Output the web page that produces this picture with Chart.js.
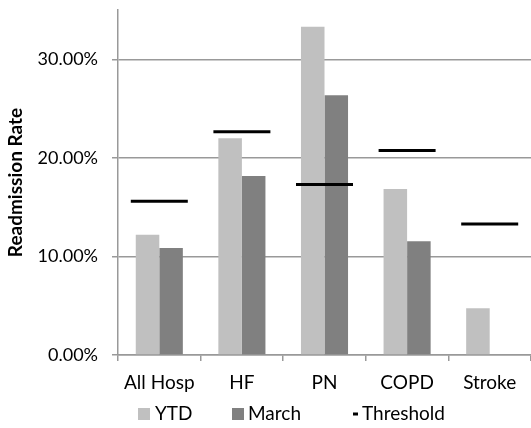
<!DOCTYPE html>
<html>
<head>
<meta charset="utf-8">
<script src="https://cdn.jsdelivr.net/npm/chart.js@4"></script>
<style>
  html, body { margin: 0; padding: 0; background: #fff; overflow: hidden; }
  canvas { display: block; }
</style>
</head>
<body>
<canvas id="myChart" width="531" height="428"></canvas>
<script>
// chart values (percent)
const categories = ['All Hosp', 'HF', 'PN', 'COPD', 'Stroke'];
const ytdValues = [12.2, 22.0, 33.3, 16.85, 4.75];
const marchValues = [10.85, 18.15, 26.35, 11.55, null];
const thresholdValues = [15.6, 22.65, 17.3, 20.75, 13.3];
const yTicks = [0, 10, 20, 30];

const FONT = 'Lato, "Open Sans", sans-serif';
const FONT_SIZE = 19;
const gridColor = '#999999';

// legend drawn by hand so the spacing matches the original
const legendPlugin = {
  id: 'manualLegend',
  afterDraw(chart) {
    const ctx = chart.ctx;
    const y = 414;
    ctx.save();
    ctx.font = FONT_SIZE + 'px ' + FONT;
    ctx.textBaseline = 'middle';

    ctx.fillStyle = '#c0c0c0';
    ctx.fillRect(138, y - 6, 12, 12);
    ctx.fillStyle = '#000';
    ctx.fillText('YTD', 155, y);

    ctx.fillStyle = '#808080';
    ctx.fillRect(232, y - 6, 12, 12);
    ctx.fillStyle = '#000';
    ctx.fillText('March', 248, y);

    ctx.fillRect(353, y - 1.5, 5, 3);
    ctx.fillText('Threshold', 362, y);
    ctx.restore();
  }
};

// drop the extra label padding chart.js adds so the plot area stays put
function noPad(scale) {
  scale.paddingTop = 0;
  scale.paddingBottom = 0;
  scale.paddingLeft = 0;
  scale.paddingRight = 0;
}

const ctx = document.getElementById('myChart').getContext('2d');
new Chart(ctx, {
  type: 'bar',
  data: {
    labels: categories,
    datasets: [
      { label: 'YTD', data: ytdValues, backgroundColor: '#c0c0c0', order: 1 },
      { label: 'March', data: marchValues, backgroundColor: '#808080', order: 1 },
      {
        type: 'line',
        label: 'Threshold',
        data: thresholdValues,
        showLine: false,
        pointStyle: 'line',
        pointRadius: 28.5,
        pointHoverRadius: 28.5,
        borderColor: '#000',
        pointBorderWidth: 3,
        order: 0
      }
    ]
  },
  options: {
    responsive: false,
    animation: false,
    layout: {
      autoPadding: false,
      padding: { top: 10, right: 0, bottom: 28, left: 0 }
    },
    datasets: { bar: { categoryPercentage: 0.57, barPercentage: 1.0 } },
    plugins: { legend: { display: false }, tooltip: { enabled: false } },
    scales: {
      x: {
        offset: true,
        grid: {
          offset: true,
          drawOnChartArea: false,
          tickLength: 6,
          color: gridColor,
          lineWidth: 1.5
        },
        border: { color: gridColor, width: 1.5 },
        ticks: {
          color: '#000',
          font: { family: FONT, size: FONT_SIZE },
          padding: 10,
          maxRotation: 0,
          autoSkip: false
        },
        afterFit(scale) { scale.height = 45; noPad(scale); }
      },
      y: {
        min: 0,
        max: 35,
        afterBuildTicks(scale) {
          scale.ticks = yTicks.map(v => ({ value: v }));
        },
        grid: { color: gridColor, lineWidth: 1.5, tickLength: 6 },
        border: { color: gridColor, width: 1.5 },
        ticks: {
          color: '#000',
          font: { family: FONT, size: 18 },
          padding: 14,
          callback: v => v.toFixed(2) + '%'
        },
        title: {
          display: true,
          text: 'Readmission Rate',
          color: '#000',
          font: { family: FONT, size: 19, weight: 'bold' },
          padding: { top: 4, bottom: 0 }
        },
        afterFit(scale) { scale.width = 118; noPad(scale); }
      }
    }
  },
  plugins: [legendPlugin]
});
</script>
</body>
</html>
